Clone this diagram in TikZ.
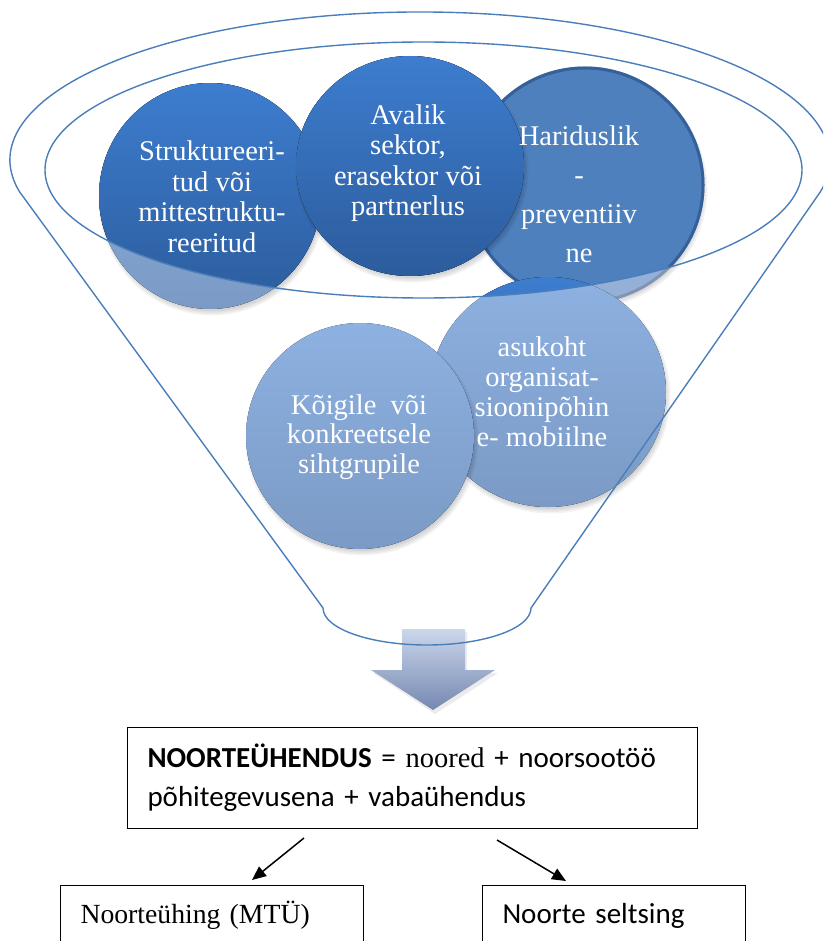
\documentclass[tikz,border=0pt]{standalone}
\usepackage{fontspec}
\setmainfont{Liberation Serif}
\newfontfamily\calibri{Carlito}
\usetikzlibrary{arrows.meta}

\definecolor{funnelblue}{HTML}{4A7EBB}
\definecolor{deeptop}{HTML}{3D7DCF}
\definecolor{deepbot}{HTML}{2C5C9C}
\definecolor{paletop}{HTML}{8DB1E1}
\definecolor{palebot}{HTML}{7B9AC5}
\definecolor{midfill}{HTML}{4E80BE}
\definecolor{midrim}{HTML}{35609A}
\definecolor{midpale}{HTML}{94B0D6}
\definecolor{midpalerim}{HTML}{8195B3}
\definecolor{arrowtop}{HTML}{CCD7EC}
\definecolor{arrowbot}{HTML}{7487B0}

\tikzset{
  bubbletext/.style={text=white, align=center, inner sep=0pt},
  deepfill/.style={top color=deeptop, bottom color=deepbot},
  palefill/.style={top color=paletop, bottom color=palebot},
  funnelline/.style={draw=funnelblue, line width=1.4pt},
  plainbox/.style={draw=black, line width=1pt, inner sep=0pt},
  pointer/.style={line width=1.5pt, -{Triangle[length=14pt,width=12pt]}},
}

% soft shadow below a bubble: centre, x radius, y radius
\newcommand\bubbleshadow[3]{%
  \foreach \k in {0,1.5,3,4.5}{%
    \fill[black,opacity=0.045] (#1) ++(2,-4) ellipse [x radius={#2+\k-2}, y radius={#3+\k-2}];}}

\begin{document}
\begin{tikzpicture}[x=1pt,y=1pt]
\useasboundingbox (0,0) rectangle (823,-941);
\clip (0,0) rectangle (823,-941);

% bubble centres
\coordinate (b1) at (210,-196);
\coordinate (b2) at (410,-166);
\coordinate (b3) at (585,-185);
\coordinate (b4) at (360,-436);
\coordinate (b5) at (548,-392);

% --- bubble 1
\bubbleshadow{b1}{111}{113}
\fill[palefill] (b1) ellipse [x radius=111, y radius=113];
\begin{scope}
  \clip (423.5,-170) ellipse [x radius=378.5, y radius=128];
  \fill[deepfill] (b1) ellipse [x radius=111, y radius=113];
\end{scope}

% --- bubble 3
\bubbleshadow{b3}{118}{117}
\filldraw[fill=midpale, draw=midpalerim, line width=3pt] (b3) ellipse [x radius=118, y radius=117];
\begin{scope}
  \clip (423.5,-170) ellipse [x radius=378.5, y radius=128];
  \filldraw[fill=midfill, draw=midrim, line width=3pt] (b3) ellipse [x radius=118, y radius=117];
\end{scope}

% --- bubble 2
\bubbleshadow{b2}{114}{110}
\fill[palefill] (b2) ellipse [x radius=114, y radius=110];
\begin{scope}
  \clip (423.5,-170) ellipse [x radius=378.5, y radius=128];
  \fill[deepfill] (b2) ellipse [x radius=114, y radius=110];
\end{scope}

% --- bubble 5
\bubbleshadow{b5}{118}{115}
\fill[palefill] (b5) ellipse [x radius=118, y radius=115];
\begin{scope}
  \clip (423.5,-170) ellipse [x radius=378.5, y radius=128];
  \fill[deepfill] (b5) ellipse [x radius=118, y radius=115];
\end{scope}

% --- bubble 4
\bubbleshadow{b4}{114}{113}
\fill[palefill] (b4) ellipse [x radius=114, y radius=113];

% bubble labels
\node[bubbletext, font=\fontsize{28.5}{30.5}\selectfont] (t1) at (212,-197)
  {Struktureeri-\\tud või\\mittestruktu-\\reeritud};
\node[bubbletext, font=\fontsize{28.5}{30.5}\selectfont] (t2) at (408,-163)
  {Avalik\\sektor,\\erasektor või\\partnerlus};
\node[bubbletext, font=\fontsize{28.5}{39}\selectfont] (t3) at (579,-194)
  {Hariduslik\\-\\preventiiv\\ne};
\node[bubbletext, font=\fontsize{28.5}{29.5}\selectfont] (t4) at (359,-437)
  {Kõigile\ \ või\\konkreetsele\\sihtgrupile};
\node[bubbletext, font=\fontsize{28.5}{30}\selectfont] (t5) at (542,-392)
  {asukoht\\organisat-\\sioonipõhin\\e- mobiilne};

% downward arrow out of the funnel
\fill[black, opacity=0.08] (404,-632) -- (467,-632) -- (467,-673) -- (498,-673)
  -- (435,-714) -- (373,-673) -- (404,-673) -- cycle;
\shade[top color=arrowtop, bottom color=arrowbot] (402,-629) -- (465,-629) -- (465,-670)
  -- (495,-670) -- (433,-710) -- (371,-670) -- (402,-670) -- cycle;

% funnel outline and its mouth
\draw[funnelline] (19.7,-192) arc [start angle=192.5, end angle=-12.5, x radius=410, y radius=148]
  -- (531,-608) arc [start angle=0, end angle=-180, x radius=104, y radius=37] -- cycle;
\draw[funnelline] (423.5,-170) ellipse [x radius=378.5, y radius=128];

% result boxes
\node[plainbox, anchor=north west, minimum width=570pt, minimum height=101pt,
      text width=530pt, inner xsep=20pt, align=left,
      font=\calibri\fontsize{29}{39}\selectfont] (hub) at (127,-727)
  {\textbf{NOORTEÜHENDUS} = {\rmfamily\fontsize{28.5}{39}\selectfont noored} + noorsootöö\\
   põhitegevusena + vabaühendus};
\node[plainbox, anchor=north west, minimum width=303pt, minimum height=60pt,
      text width=263pt, inner xsep=20pt, align=left,
      font=\fontsize{27.7}{30}\selectfont] (mtu) at (60,-885) {Noorteühing (MTÜ)};
\node[plainbox, anchor=north west, minimum width=263pt, minimum height=60pt,
      text width=223pt, inner xsep=20pt, align=left,
      font=\calibri\fontsize{29}{30}\selectfont] (selts) at (482,-885) {Noorte seltsing};

% pointers from the definition to the two forms
\coordinate (mtuFrom) at (304,-838);
\coordinate (mtuTo) at (252,-880);
\coordinate (seltsFrom) at (497,-840);
\coordinate (seltsTo) at (566,-881);
\draw[pointer] (mtuFrom) -- (mtuTo);
\draw[pointer] (seltsFrom) -- (seltsTo);
\end{tikzpicture}
\end{document}
